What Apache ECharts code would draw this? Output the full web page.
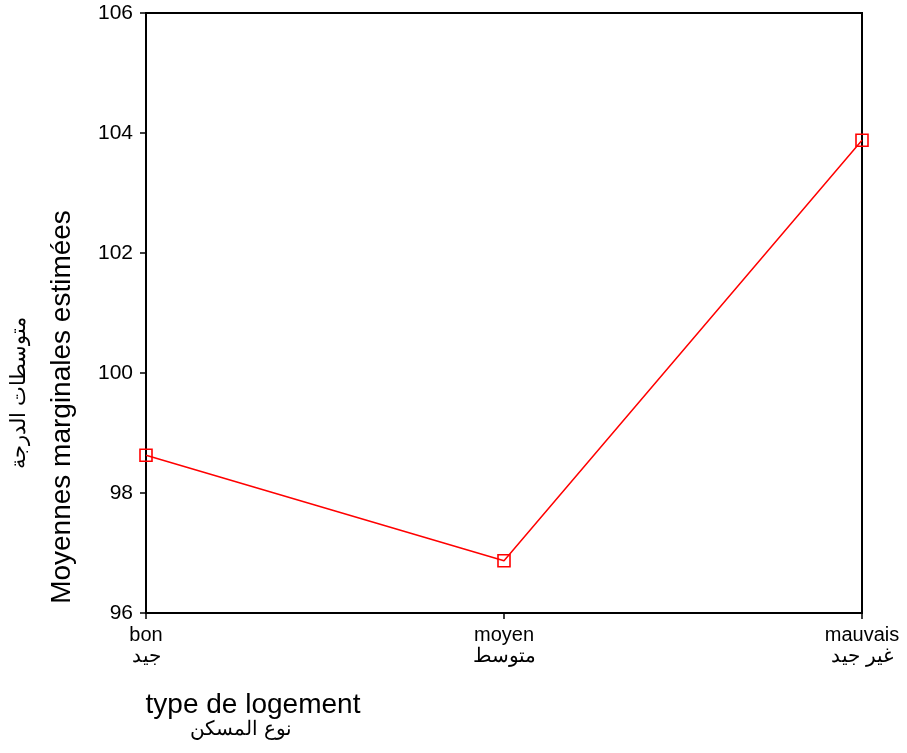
<!DOCTYPE html>
<html><head><meta charset="utf-8">
<script src="https://cdn.jsdelivr.net/npm/echarts@6/dist/echarts.min.js"></script>
<style>html,body{margin:0;padding:0;background:#fff}#c{width:907px;height:753px}</style>
</head><body><div id="c"></div>
<script>
const categories = ['bon\nجيد', 'moyen\nمتوسط', 'mauvais\nغير جيد'];
const values = [98.63, 96.87, 103.88];
const yTicks = [96, 98, 100, 102, 104, 106];
const yTitleFr = 'Moyennes marginales estimées';
const yTitleAr = 'متوسطات الدرجة';
const xTitleFr = 'type de logement';
const xTitleAr = 'نوع المسكن';

const chart = echarts.init(document.getElementById('c'));
const font = '"Liberation Sans", Arial, sans-serif';
chart.setOption({
  animation: false,
  backgroundColor: '#fff',
  grid: {left: 146, right: 45, top: 13, bottom: 140, show: true, borderColor: '#000', borderWidth: 2},
  xAxis: {
    type: 'category', data: categories, boundaryGap: false,
    axisLine: {lineStyle: {color: '#000', width: 2}},
    axisTick: {alignWithLabel: true, length: 6, lineStyle: {color: '#000', width: 1.5}},
    axisLabel: {color: '#000', fontFamily: font, fontSize: 20, lineHeight: 21, margin: 12, interval: 0},
    splitLine: {show: false}
  },
  yAxis: {
    type: 'value', min: yTicks[0], max: yTicks[yTicks.length-1], interval: 2,
    axisLine: {show: true, lineStyle: {color: '#000', width: 2}},
    axisTick: {show: true, length: 6, lineStyle: {color: '#000', width: 1.5}},
    axisLabel: {color: '#000', fontFamily: font, fontSize: 21, margin: 13},
    splitLine: {show: false}
  },
  series: [{
    type: 'line', data: values, color: '#ff0000',
    lineStyle: {color: '#ff0000', width: 1.5},
    symbol: 'rect', symbolSize: 12,
    itemStyle: {color: 'rgba(255,255,255,0)', borderColor: '#ff0000', borderWidth: 1.6}
  }],
  graphic: [
    {type: 'text', x: 62, y: 407, rotation: Math.PI/2,
     style: {text: yTitleFr, fill: '#000', font: '28px ' + font, textAlign: 'center', textVerticalAlign: 'middle'}},
    {type: 'text', x: 19, y: 393, rotation: Math.PI/2,
     style: {text: yTitleAr, fill: '#000', font: '21px ' + font, textAlign: 'center', textVerticalAlign: 'middle'}},
    {type: 'text', x: 253, y: 705,
     style: {text: xTitleFr, fill: '#000', font: '28px ' + font, textAlign: 'center', textVerticalAlign: 'middle'}},
    {type: 'text', x: 241, y: 729,
     style: {text: xTitleAr, fill: '#000', font: '20px ' + font, textAlign: 'center', textVerticalAlign: 'middle'}}
  ]
});
</script></body></html>
